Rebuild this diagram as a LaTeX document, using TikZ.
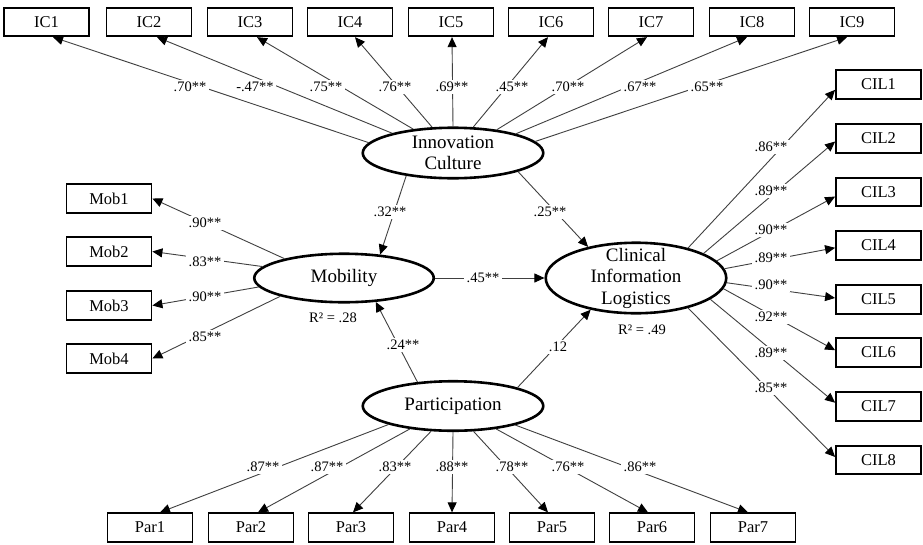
\documentclass[tikz,border=0pt]{standalone}
\usepackage{fontspec}
\setmainfont{Liberation Serif}
\usetikzlibrary{arrows.meta,shapes.geometric}
\begin{document}
\begin{tikzpicture}[x=1pt,y=-1pt,
 obs/.style={draw,line width=1.8pt,minimum width=85pt,minimum height=28.5pt,inner sep=0pt,font=\fontsize{16.5}{18}\selectfont},
 lat/.style={draw,ellipse,line width=2.6pt,inner sep=0pt},
 ltxt/.style={align=center,inner sep=0pt,font=\fontsize{19}{21.5}\selectfont},
 con/.style={draw=black!75,line width=0.9pt,-{Triangle[length=10pt,width=9pt,color=black]}},
 lab/.style={fill=white,inner sep=2.5pt,font=\fontsize{14.5}{16}\selectfont},
 rsq/.style={inner sep=0pt,font=\fontsize{14.5}{16}\selectfont}]
\useasboundingbox[fill=white] (0,0) rectangle (923,544);

% latent variables
\node[lat,minimum width=180.5pt,minimum height=50.5pt] (Inn) at (453,153) {};
\node[lat,minimum width=179.5pt,minimum height=48.5pt] (Mob) at (344,278) {};
\node[lat,minimum width=180.5pt,minimum height=70.5pt] (CIL) at (636,278) {};
\node[lat,minimum width=180.5pt,minimum height=49.5pt] (Par) at (453,406) {};
\node[ltxt] (Innt) at (Inn) {Innovation\\Culture};
\node[ltxt] (Mobt) at (Mob) {Mobility};
\node[ltxt] (CILt) at (CIL) {Clinical\\Information\\Logistics};
\node[ltxt] (Part) at (Par) {Participation};
\node[rsq] (RMob) at (333,318) {R² = .28};
\node[rsq] (RCIL) at (642,330) {R² = .49};

% indicators
\foreach \n/\x in {1/46.5,2/149,3/250,4/350,5/451,6/551,7/651,8/752,9/852}
  \node[obs] (IC\n) at (\x,22) {IC\n};
\foreach \n/\y in {1/198.5,2/251.5,3/305.5,4/358.5}
  \node[obs] (Mob\n) at (109,\y) {Mob\n};
\foreach \n/\y in {1/84.5,2/138.5,3/192,4/245.5,5/299.5,6/352.5,7/406.5,8/460}
  \node[obs] (CIL\n) at (878.5,\y) {CIL\n};
\foreach \n/\x in {1/150,2/251,3/351,4/452,5/552,6/652,7/753}
  \node[obs] (Par\n) at (\x,527.5) {Par\n};

% loadings: Innovation Culture
\foreach \n/\a/\s in {1/173/6.5,2/162/8,3/149/7,4/129/5,5/90/1,6/52/-3,7/28/-4,8/17/-5,9/8.5/-5}
  \draw[con] (Inn.\a) -- ([xshift=\s pt]IC\n.south);
% loadings: Mobility
\foreach \n/\a in {1/162.6,2/172.8,3/186.6,4/196.6}
  \draw[con] (Mob.\a) -- (Mob\n.east);
% loadings: CIL
\foreach \n/\a/\b in {1/30/187,2/20/184.6,3/12.4/186.6,4/6/183,5/357.4/178,6/353.4/177,7/344/175.4,8/330.7/176}
  \draw[con] (CIL.\a) -- (CIL\n.\b);
% loadings: Participation
\foreach \n/\a/\s in {1/196.4/10,2/208/7,3/229.6/2,4/270/0,5/309.2/-4,6/332/-4,7/343.8/-5}
  \draw[con] (Par.\a) -- ([xshift=\s pt]Par\n.north);

% structural paths
\draw[con] (Inn.206.5) -- (Mob.33.7);
\draw[con] (Inn.344) -- (CIL.147.1);
\draw[con] (Mob.east) -- (CIL.west);
\draw[con] (Par.146.3) -- (Mob.323.1);
\draw[con] (Par.16.2) -- (CIL.215.3);

% labels
\foreach \x/\t [count=\i] in {190/.70**,255/-.47**,326/.75**,395/.76**,452/.69**,512/.45**,568/.70**,640/.67**,707/.65**}
  \node[lab] (lIC\i) at (\x,87) {\t};
\foreach \y/\t [count=\i] in {223/.90**,262/.83**,297/.90**,337/.85**}
  \node[lab] (lMob\i) at (205,\y) {\t};
\foreach \y/\t [count=\i] in {147/.86**,191/.89**,230/.90**,258/.89**,285/.90**,317/.92**,353/.89**,388/.85**}
  \node[lab] (lCIL\i) at (771,\y) {\t};
\foreach \x/\t [count=\i] in {263/.87**,327/.87**,395/.83**,452/.88**,512/.78**,568/.76**,640/.86**}
  \node[lab] (lPar\i) at (\x,467) {\t};
\node[lab] (lIM) at (390,212) {.32**};
\node[lab] (lIC) at (550,212) {.25**};
\node[lab] (lMC) at (483,278) {.45**};
\node[lab] (lPM) at (403,345) {.24**};
\node[lab] (lPC) at (558,347) {.12};
\end{tikzpicture}
\end{document}
